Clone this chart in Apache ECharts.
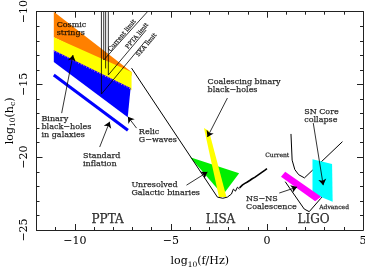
<!DOCTYPE html>
<html>
<head>
<meta charset="utf-8">
<script src="https://cdn.jsdelivr.net/npm/echarts@6/dist/echarts.min.js"></script>
<style>html,body{margin:0;padding:0;background:#fff}#c{width:365px;height:273px}</style>
</head>
<body>
<div id="c"></div>
<script>
// ---- axis ranges and tick labels ----
const xRange = [-12, 5];
const yRange = [-25, -10];
const xMajorTicks = [-10, -5, 0, 5];
const yMajorTicks = [-25, -20, -15, -10];

// ---- filled regions (log10 f, log10 hc) ----
const cosmicStrings = [[-11.1, -10], [-7.05, -14.15], [-7.05, -14.4], [-11.1, -11.75]];
const pptaYellow = [[-11.1, -11.75], [-7.05, -14.15], [-7.05, -15.4], [-11.1, -12.65]];
const bbhGalaxies = [[-11.1, -12.65], [-7.1, -15.25], [-7.25, -17.25], [-11.1, -13.45]];
const galacticBinaries = [[-4.0, -20.0], [-1.45, -21.1], [-2.3, -22.6]];
const coalescingBBH = [[-3.28, -17.99], [-3.02, -18.2], [-2.11, -22.74], [-2.5, -22.74]];
const snCollapse = [[2.37, -20.14], [3.39, -20.47], [3.42, -23.06], [2.37, -22.5]];
const nsnsCoalescence = [[0.95, -21.0], [2.82, -22.72], [2.51, -23.02], [0.73, -21.34]];

// ---- lines ----
const bbhDotted = [[-11.1, -12.7], [-7.1, -15.3]];
const standardInflation = [[-11.1, -14.35], [-7.24, -18.15]];
const currentLimit = [[-8.5, -10], [-8.5, -13.32], [-6.22, -10]];
const extraLimitLine = [[-8.4, -10], [-8.4, -13.9]];
const pptaLimit = [[-8.26, -10], [-8.26, -14.35], [-6.29, -11.26]];
const skaLimit = [[-8.62, -10], [-8.62, -15.66], [-6.29, -11.95]];
const lisaCurve = [[-7.05, -13.88], [-2.58, -22.74], [-2.3, -22.82], [-2.06, -22.74], [-1.85, -22.53], [-1.75, -22.19], [-1.64, -22.33], [-1.54, -22.06], [-1.43, -22.19]];
const lisaWiggle = [[-1.43, -22.1], [-1.38, -22.0], [-1.33, -22.08], [-1.27, -21.9], [-1.21, -21.98], [-1.15, -21.8], [-1.09, -21.88], [-1.02, -21.7], [-0.96, -21.78], [-0.9, -21.6], [-0.84, -21.68], [-0.77, -21.48], [-0.71, -21.56], [-0.64, -21.38], [-0.58, -21.45], [-0.51, -21.26], [-0.45, -21.33], [-0.38, -21.14], [-0.32, -21.2], [-0.25, -21.02], [-0.19, -21.08], [-0.12, -20.9], [-0.06, -20.94], [0.0, -20.78]];
const ligoCurrent = [[1.25, -18.4], [1.31, -20.2], [1.45, -20.85], [1.65, -21.2], [1.95, -21.42], [3.93, -18.93]];
const ligoAdvanced = [[0.95, -21.68], [1.94, -23.56], [2.2, -23.74], [2.8, -22.83], [3.1, -22.4]];

// ---- arrows: [from, to] ----
const arrows = [
  [[-10.69, -16.97], [-10.1, -12.98]],
  [[-6.79, -18.0], [-7.24, -17.22]],
  [[-8.71, -19.3], [-8.19, -17.56]],
  [[-4.19, -21.92], [-3.1, -21.02]],
  [[-2.06, -15.93], [-3.1, -18.61]],
  [[2.41, -17.65], [2.93, -21.92]],
  [[0.64, -22.46], [1.57, -22.05]]
];

// ---- annotation texts ----
const notes = [
  {t: 'Cosmic\nstrings', p: [-10.95, -10.64]},
  {t: 'Binary\nblack\u2212holes\nin galaxies', p: [-11.74, -17.1]},
  {t: 'Relic\nG\u2212waves', p: [-6.67, -18.0]},
  {t: 'Standard\ninflation', p: [-9.58, -19.62]},
  {t: 'Unresolved\nGalactic binaries', p: [-7.06, -21.62]},
  {t: 'Coalescing binary\nblack\u2212holes', p: [-3.09, -14.58]},
  {t: 'SN Core\ncollapse', p: [1.94, -16.64]},
  {t: 'NS\u2212NS\nCoalescence', p: [-1.09, -22.6]}
];
const smallNotes = [
  {t: 'Current', p: [-0.09, -19.64]},
  {t: 'Advanced', p: [2.72, -23.22]}
];
const rotNotes = [
  {t: 'Current limit', p: [-7.54, -11.64]},
  {t: 'PPTA limit', p: [-6.76, -11.67]},
  {t: 'SKA limit', p: [-6.27, -12.29]}
];
const bigNotes = [
  {t: 'PPTA', p: [-8.3, -24.33]},
  {t: 'LISA', p: [-2.42, -24.33]},
  {t: 'LIGO', p: [2.43, -24.33]}
];

const FONT = 'DejaVu Serif';
const fmt = v => (v < 0 ? '\u2212' + Math.abs(v) : String(v));

function poly(points, color, z) {
  return {
    type: 'custom', coordinateSystem: 'cartesian2d', xAxisIndex: 0, yAxisIndex: 0,
    silent: true, z: z, clip: true,
    data: [points[0]],
    renderItem: (params, api) => ({
      type: 'polygon',
      shape: {points: points.map(p => api.coord(p))},
      style: {fill: color, stroke: null}
    })
  };
}
function line(points, width, z, extra) {
  return Object.assign({
    type: 'line', xAxisIndex: 0, yAxisIndex: 0, data: points, showSymbol: false, symbol: 'none',
    silent: true, z: z, animation: false,
    lineStyle: {color: '#000', width: width}
  }, extra || {});
}
function textSeries(list, size, opts, z) {
  return {
    type: 'scatter', xAxisIndex: 0, yAxisIndex: 0, symbolSize: 0, silent: true, z: z,
    data: list.map(n => ({value: n.p, label: {formatter: n.t}})),
    label: Object.assign({show: true, color: '#000', fontFamily: FONT, fontSize: size,
      textBorderColor: '#000', textBorderWidth: 0.25}, opts)
  };
}

const axisCommon = {
  type: 'value', min: xRange[0], max: xRange[1],
  splitLine: {show: false},
  axisLine: {show: true, onZero: false, lineStyle: {color: '#222', width: 1}}
};

const option = {
  animation: false,
  backgroundColor: '#fff',
  grid: {left: 36.5, right: 2, top: 11.7, bottom: 43, containLabel: false, outerBoundsMode: 'none'},
  xAxis: [
    Object.assign({}, axisCommon, {
      position: 'bottom', interval: 1,
      axisTick: {show: true, inside: true, length: 3, lineStyle: {color: '#222'}},
      axisLabel: {show: true, customValues: xMajorTicks, formatter: fmt, color: '#000', fontFamily: FONT, fontSize: 11, margin: 6},
      name: '{a|log}{s|10}{a|(f/Hz)}', nameLocation: 'middle', nameGap: 24, nameMoveOverlap: false,
      nameTextStyle: {color: '#000', fontFamily: FONT, rich: {
        a: {fontFamily: FONT, fontSize: 11, color: '#000'},
        s: {fontFamily: FONT, fontSize: 7.5, color: '#000', padding: [7, 0, 0, 0]}
      }}
    }),
    Object.assign({}, axisCommon, {
      position: 'bottom',
      axisTick: {show: true, inside: true, length: 6, customValues: xMajorTicks, lineStyle: {color: '#222'}},
      axisLabel: {show: false}
    }),
    Object.assign({}, axisCommon, {
      position: 'top', interval: 1,
      axisTick: {show: true, inside: true, length: 3, lineStyle: {color: '#222'}},
      axisLabel: {show: false}
    }),
    Object.assign({}, axisCommon, {
      position: 'top',
      axisTick: {show: true, inside: true, length: 6, customValues: xMajorTicks, lineStyle: {color: '#222'}},
      axisLabel: {show: false}
    })
  ],
  yAxis: [
    {
      type: 'value', min: yRange[0], max: yRange[1], interval: 5, position: 'left',
      splitLine: {show: false},
      axisLine: {show: true, onZero: false, lineStyle: {color: '#222'}},
      axisTick: {show: true, inside: true, length: 6, lineStyle: {color: '#222'}},
      minorTick: {show: true, splitNumber: 5, length: 3, lineStyle: {color: '#222'}},
      axisLabel: {show: true, rotate: 90, formatter: fmt, color: '#000', fontFamily: FONT, fontSize: 11, margin: 7},
      name: '{a|log}{s|10}{a|(h}{s|c}{a|)}', nameLocation: 'middle', nameGap: 19, nameMoveOverlap: false,
      nameTextStyle: {color: '#000', fontFamily: FONT, rich: {
        a: {fontFamily: FONT, fontSize: 11, color: '#000'},
        s: {fontFamily: FONT, fontSize: 7.5, color: '#000', padding: [7, 0, 0, 0]}
      }}
    },
    {
      type: 'value', min: yRange[0], max: yRange[1], interval: 5, position: 'right',
      splitLine: {show: false},
      axisLine: {show: true, onZero: false, lineStyle: {color: '#222'}},
      axisTick: {show: true, inside: true, length: 6, lineStyle: {color: '#222'}},
      minorTick: {show: true, splitNumber: 5, length: 3, lineStyle: {color: '#222'}},
      axisLabel: {show: false}
    }
  ],
  series: [
    poly(cosmicStrings, '#ff8000', 1),
    poly(pptaYellow, '#ffff00', 2),
    poly(bbhGalaxies, '#0000ff', 3),
    line(bbhDotted, 1, 4, {lineStyle: {color: '#ff66cc', width: 1, type: [1, 2]}}),
    line(standardInflation, 3, 4, {lineStyle: {color: '#0000ff', width: 3}}),
    line(currentLimit, 0.8, 5),
    line(extraLimitLine, 0.8, 5),
    line(pptaLimit, 0.8, 5),
    line(skaLimit, 0.8, 5),
    poly(galacticBinaries, '#00ee00', 2),
    poly(coalescingBBH, '#ffff00', 3),
    line(lisaCurve, 1, 5),
    line(lisaWiggle, 1.6, 5),
    line(ligoCurrent, 1, 2),
    line(ligoAdvanced, 1, 2),
    poly(snCollapse, '#00ffff', 3),
    poly(nsnsCoalescence, '#ff00ff', 4),
    {
      type: 'lines', coordinateSystem: 'cartesian2d', xAxisIndex: 0, yAxisIndex: 0, silent: true, z: 6,
      symbol: ['none', 'arrow'], symbolSize: 6,
      lineStyle: {color: '#000', width: 0.8, opacity: 1},
      data: arrows.map(a => ({coords: a}))
    },
    textSeries(notes, 8, {position: [0, 0], align: 'left', verticalAlign: 'top', lineHeight: 8}, 7),
    textSeries(smallNotes, 6, {position: [0, 0], align: 'left', verticalAlign: 'top', lineHeight: 6}, 7),
    textSeries(rotNotes, 6, {position: 'inside', align: 'center', verticalAlign: 'middle', rotate: 50}, 7),
    textSeries(bigNotes, 12, {position: 'inside', align: 'center', verticalAlign: 'middle'}, 7)
  ]
};

const chart = echarts.init(document.getElementById('c'), null, {renderer: 'canvas'});
chart.setOption(option);
</script>
</body>
</html>
